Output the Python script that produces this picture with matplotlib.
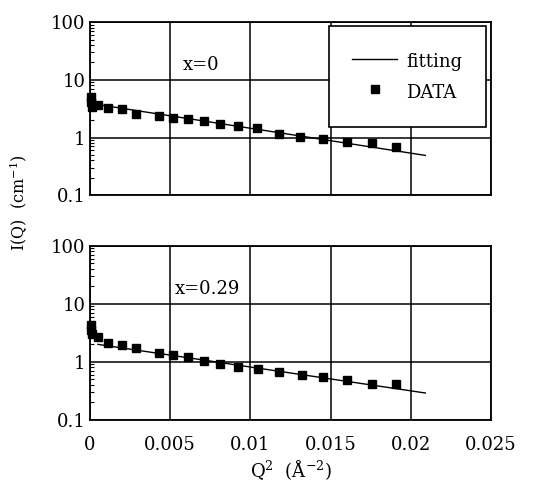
import matplotlib

matplotlib.use("Agg")
import matplotlib.pyplot as plt
from matplotlib.ticker import FixedLocator, LogLocator, NullFormatter

plt.rcParams["font.family"] = ["DejaVu Serif"]

# x = 0 sample
q2_a = [0.00008, 0.00008, 0.00012, 0.0005, 0.0011, 0.002, 0.0029, 0.0043, 0.0052,
        0.0061, 0.0071, 0.0081, 0.0092, 0.0104, 0.0118, 0.0131, 0.0145, 0.016,
        0.0176, 0.0191]
i_a = [5.0, 4.2, 3.4, 3.7, 3.2, 3.1, 2.6, 2.4, 2.2, 2.1, 1.9, 1.7, 1.56, 1.45,
       1.17, 1.04, 0.96, 0.85, 0.79, 0.69]
fit_q2_a = [0.0003, 0.0209]
fit_i_a = [3.8, 0.49]

# x = 0.29 sample
q2_b = [0.0001, 0.0001, 0.00015, 0.0005, 0.0011, 0.002, 0.0029, 0.0043, 0.0052,
        0.0061, 0.0071, 0.0081, 0.0092, 0.0105, 0.0118, 0.0132, 0.0145, 0.016,
        0.0176, 0.0191]
i_b = [4.4, 3.6, 3.0, 2.7, 2.1, 1.96, 1.75, 1.43, 1.32, 1.22, 1.04, 0.92, 0.82,
       0.76, 0.67, 0.6, 0.55, 0.48, 0.42, 0.41]
fit_q2_b = [0.0005, 0.0209]
fit_i_b = [2.0, 0.29]

x_ticks = [0, 0.005, 0.01, 0.015, 0.02, 0.025]
x_labels = ["0", "0.005", "0.01", "0.015", "0.02", "0.025"]
y_ticks = [0.1, 1, 10, 100]
y_labels = ["0.1", "1", "10", "100"]

fig = plt.figure(figsize=(5.35, 4.82), dpi=100)
ax1 = fig.add_axes([0.168, 0.595, 0.750, 0.359])
ax2 = fig.add_axes([0.168, 0.129, 0.750, 0.361])


def style(ax, show_x):
    ax.set_yscale("log")
    ax.set_xlim(0, 0.025)
    ax.set_ylim(0.1, 100)
    ax.xaxis.set_major_locator(FixedLocator(x_ticks))
    ax.yaxis.set_major_locator(FixedLocator(y_ticks))
    ax.yaxis.set_minor_locator(LogLocator(base=10, subs=range(2, 10)))
    ax.yaxis.set_minor_formatter(NullFormatter())
    ax.set_yticklabels(y_labels, fontsize=13)
    if show_x:
        ax.set_xticklabels(x_labels, fontsize=13)
    else:
        ax.set_xticklabels([])
    ax.tick_params(axis="y", which="major", length=0, pad=3)
    ax.tick_params(axis="x", which="major", length=0, pad=12)
    ax.tick_params(axis="y", which="minor", direction="in", length=3, width=0.8)
    ax.tick_params(axis="x", which="minor", length=0)
    ax.grid(True, which="major", color="black", lw=1.1)
    for s in ax.spines.values():
        s.set_linewidth(1.3)
        s.set_color("black")


for ax, qx, iy, fx, fy, lab, lx in [
    (ax1, q2_a, i_a, fit_q2_a, fit_i_a, "x=0", 0.0058),
    (ax2, q2_b, i_b, fit_q2_b, fit_i_b, "x=0.29", 0.0053),
]:
    ax.plot(fx, fy, color="black", lw=1.0, label="fitting", zorder=3)
    ax.plot(qx, iy, "s", color="black", ms=6, label="DATA", zorder=4,
            clip_on=False)
    ax.text(lx, 18, lab, fontsize=13, va="center")

style(ax1, False)
style(ax2, True)

leg = ax1.legend(loc="upper right", bbox_to_anchor=(0.987, 0.975), fontsize=13,
                 frameon=True, fancybox=False, framealpha=1, edgecolor="black",
                 borderpad=1.3, labelspacing=0.4, handleheight=1.6,
                 handlelength=2.5, handletextpad=0.5, borderaxespad=0)
leg.get_frame().set_linewidth(1.2)
leg.set_zorder(10)

fig.text(0.036, 0.579, "I(Q)  (cm$^{\\mathregular{-1}}$)", rotation=90,
         fontsize=11.5, va="center", ha="center")
fig.text(0.544, 0.025, "Q$^{\\mathregular{2}}$  (Å$^{\\mathregular{-2}}$)",
         fontsize=13, ha="center", va="center")

fig.savefig("out.png", dpi=100)
